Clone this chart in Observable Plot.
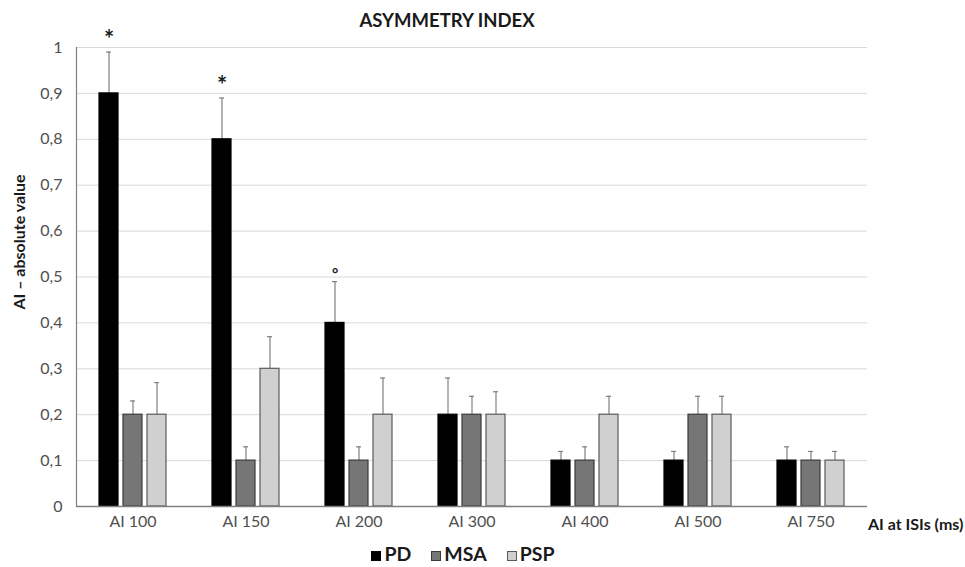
<!DOCTYPE html>
<html>
<head>
<meta charset="utf-8">
<script src="https://cdn.jsdelivr.net/npm/d3@7"></script>
<script src="https://cdn.jsdelivr.net/npm/@observablehq/plot@0.6"></script>
<style>
  html, body { margin: 0; padding: 0; background: #fff; }
  #wrap { position: relative; width: 965px; height: 567px; font-family: Lato, "Open Sans", sans-serif; }
  #title { position: absolute; top: 9px; left: 0; width: 894px; text-align: center; font-weight: bold; font-size: 18.5px; color: #1a1a1a; }
  #ylabel { position: absolute; left: 18px; top: 242px; transform: translate(-50%, -50%) rotate(-90deg); white-space: nowrap; font-weight: bold; font-size: 16px; color: #1a1a1a; }
  #xlabel { position: absolute; left: 868px; top: 514px; white-space: nowrap; font-weight: bold; font-size: 16px; color: #1a1a1a; }
  #legend { position: absolute; top: 542px; left: 0; width: 926px; display: flex; justify-content: center; gap: 20px; font-weight: bold; font-size: 19.5px; color: #1a1a1a; }
  .item { display: flex; align-items: center; gap: 3px; }
  .sw { width: 10px; height: 10px; box-sizing: border-box; display: inline-block; margin-top: 5px; }
</style>
</head>
<body>
<div id="wrap">
  <div id="chart"></div>
  <div id="title">ASYMMETRY INDEX</div>
  <div id="ylabel">AI – absolute value</div>
  <div id="xlabel">AI at ISIs (ms)</div>
  <div id="legend"></div>
</div>
<script>
const categories = ["AI 100", "AI 150", "AI 200", "AI 300", "AI 400", "AI 500", "AI 750"];
const groups = ["PD", "MSA", "PSP"];
const pdValues  = [0.9, 0.8, 0.4, 0.2, 0.1, 0.1, 0.1];
const msaValues = [0.2, 0.1, 0.1, 0.2, 0.1, 0.2, 0.1];
const pspValues = [0.2, 0.3, 0.2, 0.2, 0.2, 0.2, 0.1];
const pdErrTop  = [0.99, 0.89, 0.49, 0.28, 0.12, 0.12, 0.13];
const msaErrTop = [0.23, 0.13, 0.13, 0.24, 0.13, 0.24, 0.12];
const pspErrTop = [0.27, 0.37, 0.28, 0.25, 0.24, 0.24, 0.12];
const yTicks = [0, 0.1, 0.2, 0.3, 0.4, 0.5, 0.6, 0.7, 0.8, 0.9, 1];
const annotations = [
  {cat: "AI 100", group: "PD", label: "*"},
  {cat: "AI 150", group: "PD", label: "*"},
  {cat: "AI 200", group: "PD", label: "°"}
];
const fills = {PD: "#000000", MSA: "#767676", PSP: "#d0d0d0"};
const strokes = {PD: "#000000", MSA: "#3a3a3a", PSP: "#5a5a5a"};

const seriesVals = {PD: pdValues, MSA: msaValues, PSP: pspValues};
const seriesErr = {PD: pdErrTop, MSA: msaErrTop, PSP: pspErrTop};
const rows = [];
categories.forEach((c, i) => groups.forEach(g => rows.push({cat: c, group: g, value: seriesVals[g][i], err: seriesErr[g][i]})));
const annRows = annotations.map(a => {
  const i = categories.indexOf(a.cat);
  return {...a, err: seriesErr[a.group][i]};
});

const chart = Plot.plot({
  width: 965,
  height: 567,
  marginTop: 47,
  marginBottom: 61,
  marginLeft: 75,
  marginRight: 97,
  style: {fontFamily: "Lato, 'Open Sans', sans-serif", fontSize: "16px", color: "#505050", background: "transparent"},
  fx: {domain: categories, padding: 0, label: null, tickSize: 0, tickPadding: 9},
  x: {domain: groups, paddingInner: 0.2, paddingOuter: 0.867, axis: null},
  y: {domain: [0, 1], ticks: yTicks, tickFormat: d => String(d).replace(".", ","), tickSize: 0, tickPadding: 14, label: null},
  marks: [
    Plot.gridY(yTicks, {stroke: "#d9d9d9", strokeOpacity: 1, strokeWidth: 1}),
    Plot.ruleX(rows, {fx: "cat", x: "group", y1: "value", y2: "err", stroke: "#808080", strokeWidth: 1.2}),
    Plot.tickY(rows, {fx: "cat", x: "group", y: "err", stroke: "#808080", strokeWidth: 1.2, insetLeft: 7, insetRight: 7}),
    Plot.barY(rows, {fx: "cat", x: "group", y: "value", fill: d => fills[d.group], stroke: d => strokes[d.group], strokeWidth: 1.2}),
    Plot.ruleY([0], {stroke: "#7f7f7f", strokeWidth: 1.5}),
    Plot.frame({anchor: "left", facetAnchor: "left", stroke: "#7f7f7f", strokeWidth: 1.2}),
    Plot.text(annRows.filter(d => d.label === "*"), {fx: "cat", x: "group", y: "err", text: "label", dy: -12, fill: "#1a1a1a", fontSize: 24, fontWeight: "bold"}),
    Plot.text(annRows.filter(d => d.label !== "*"), {fx: "cat", x: "group", y: "err", text: "label", dy: -7, fill: "#1a1a1a", fontSize: 15, fontWeight: "bold"})
  ]
});
document.getElementById("chart").appendChild(chart);

const legend = document.getElementById("legend");
groups.forEach(g => {
  const item = document.createElement("div");
  item.className = "item";
  const sw = document.createElement("span");
  sw.className = "sw";
  sw.style.background = fills[g];
  sw.style.border = "1px solid " + strokes[g];
  const t = document.createElement("span");
  t.textContent = g;
  item.appendChild(sw);
  item.appendChild(t);
  legend.appendChild(item);
});
</script>
</body>
</html>
